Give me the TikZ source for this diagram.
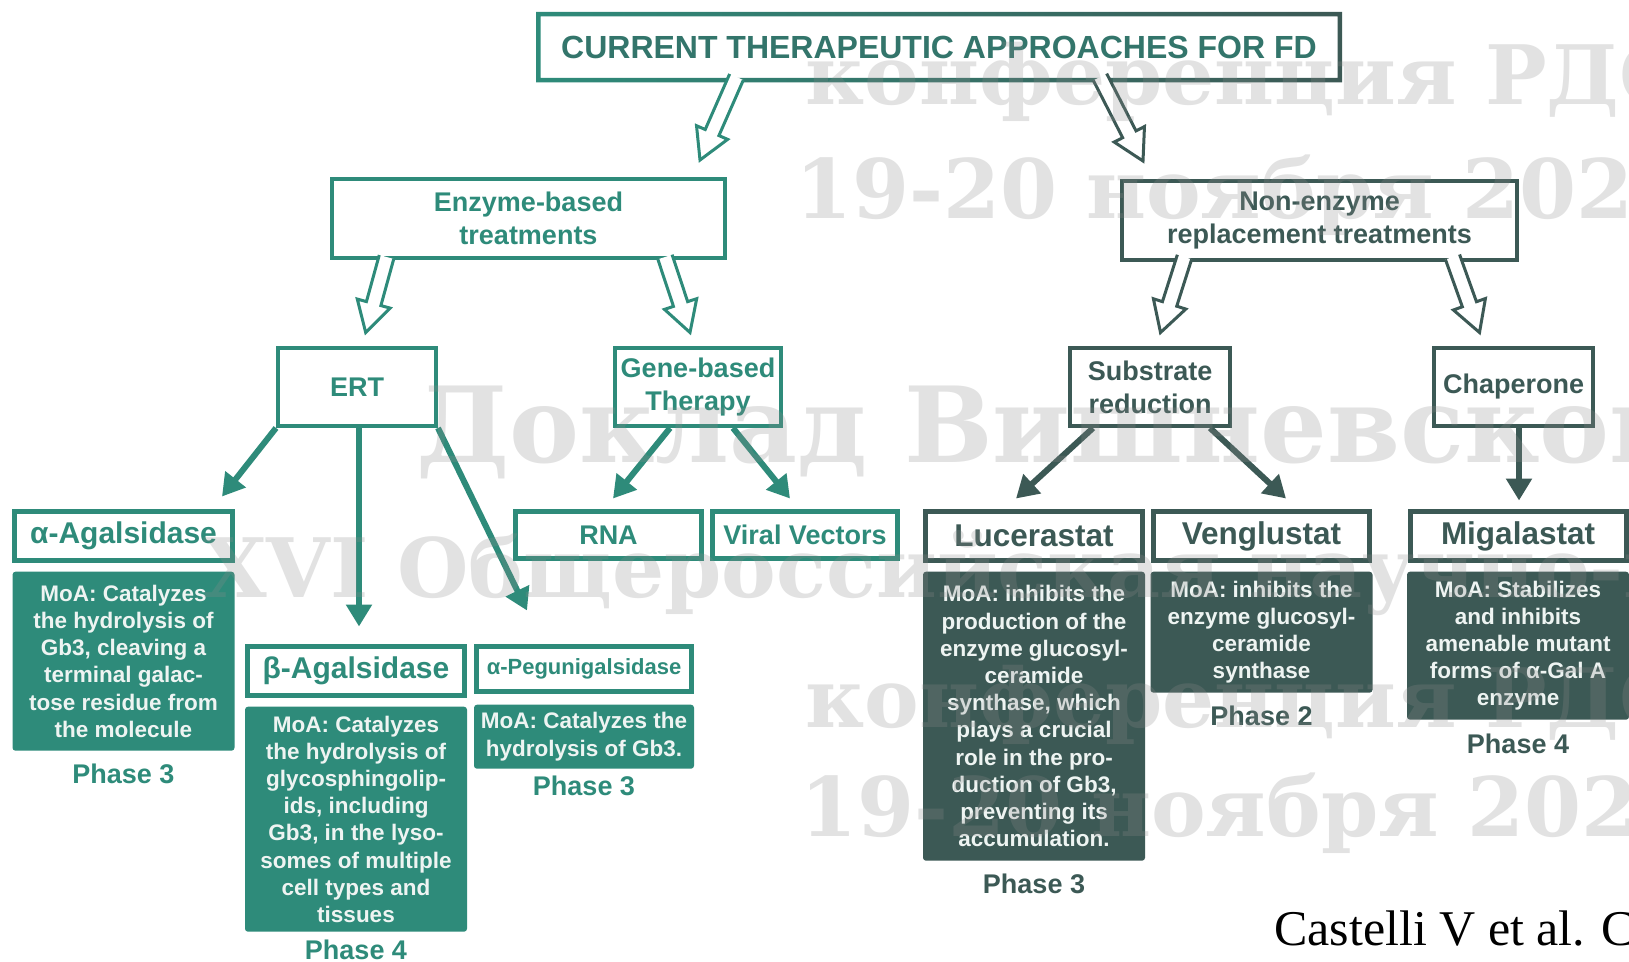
\documentclass[tikz,border=0pt]{standalone}
\usepackage{fontspec}
\setmainfont{Liberation Sans}
\newfontfamily\citefont{Liberation Serif}
\newfontfamily\wmfont{DejaVu Serif}
\usetikzlibrary{arrows.meta}
\usetikzlibrary{calc}
\usetikzlibrary{positioning}

\definecolor{enzteal}{HTML}{2E8B7A}
\definecolor{nonslate}{HTML}{3C5955}
\definecolor{titletext}{HTML}{33756B}
\definecolor{moatext}{HTML}{EEF4F2}
\definecolor{wmgray}{HTML}{8C8C8C}

\tikzset{
  catbox/.style={rectangle, draw=#1, line width=4pt, fill=white, text=#1,
    font=\bfseries\fontsize{27}{33}\selectfont, align=center, inner sep=0pt},
  drugbox/.style={rectangle, draw=#1, line width=5pt, fill=white, text=#1,
    font=\bfseries\fontsize{30}{36}\selectfont, inner sep=0pt},
  moabox/.style={rectangle, rounded corners=3pt, fill=#1, text=moatext, minimum width=222pt,
    font=\bfseries\fontsize{22.5}{27.2}\selectfont, align=center, inner sep=0pt},
  phaselabel/.style={text=#1, font=\bfseries\fontsize{27}{32}\selectfont, inner sep=0pt},
  solidarrow/.style={draw=#1, line width=6pt, -{Triangle[length=22pt,width=25pt]}},
  wmtext/.style={font=\wmfont\bfseries\fontsize{82}{82}\selectfont, text=wmgray,
    text opacity=0.25, anchor=base west, inner sep=0pt}
}

% outlined arrow: colour, start, tip
\newcommand{\hollowarrow}[3]{%
  \coordinate (ha-s) at #2;
  \coordinate (ha-t) at #3;
  \coordinate (ha-b) at ($(ha-t)!30pt!(ha-s)$);
  \filldraw[draw=#1, fill=white, line width=3pt, line join=miter]
    ($(ha-s)!7.5pt!90:(ha-t)$) -- ($(ha-b)!7.5pt!90:(ha-t)$) -- ($(ha-b)!17pt!90:(ha-t)$)
    -- (ha-t) -- ($(ha-b)!17pt!-90:(ha-t)$) -- ($(ha-b)!7.5pt!-90:(ha-t)$)
    -- ($(ha-s)!7.5pt!-90:(ha-t)$);
}

\begin{document}
\begin{tikzpicture}[x=1pt, y=-1pt]
  \useasboundingbox[fill=white] (0,0) rectangle (1629,961);

  % top levels
  \node[catbox=titletext, draw=none, minimum width=797.5pt, minimum height=62pt,
    font=\bfseries\fontsize{32}{38}\selectfont] (title) at (939,47) {CURRENT THERAPEUTIC APPROACHES FOR FD};
  \shade[left color=enzteal, right color=nonslate, even odd rule]
    ([shift={(-2.25pt,2.25pt)}]title.north west) rectangle ([shift={(2.25pt,-2.25pt)}]title.south east)
    ([shift={(2.25pt,-2.25pt)}]title.north west) rectangle ([shift={(-2.25pt,2.25pt)}]title.south east);
  \node[catbox=enzteal, minimum width=393pt, minimum height=79pt] (enzyme) at (528.5,218.5) {Enzyme-based\\treatments};
  \node[catbox=nonslate, minimum width=395pt, minimum height=79pt] (nonenz) at (1319.5,220.5) {Non-enzyme\\replacement treatments};
  \node[catbox=enzteal, minimum width=158pt, minimum height=78pt] (ert) at (357,387) {ERT};
  \node[catbox=enzteal, minimum width=166pt, minimum height=78pt] (gene) at (698,387) {Gene-based\\Therapy};
  \node[catbox=nonslate, minimum width=160pt, minimum height=78pt] (subst) at (1150,387) {Substrate\\reduction};
  \node[catbox=nonslate, minimum width=159pt, minimum height=78pt] (chap) at (1513.5,387) {Chaperone};

  \hollowarrow{enzteal}{([xshift=-202.5pt,yshift=3pt]title.south)}{([shift={(171.5pt,17pt)}]enzyme.north)}
  \hollowarrow{nonslate}{([xshift=161pt,yshift=3pt]title.south)}{([shift={(-176.5pt,18pt)}]nonenz.north)}
  \hollowarrow{enzteal}{([xshift=-142pt,yshift=3pt]enzyme.south)}{([shift={(8.7pt,13.5pt)}]ert.north)}
  \hollowarrow{enzteal}{([xshift=136.5pt,yshift=3pt]enzyme.south)}{([shift={(-8pt,13.5pt)}]gene.north)}
  \hollowarrow{nonslate}{([xshift=-135pt,yshift=5pt]nonenz.south)}{([shift={(10.5pt,13.5pt)}]subst.north)}
  \hollowarrow{nonslate}{([xshift=133pt,yshift=5pt]nonenz.south)}{([shift={(-34pt,13.5pt)}]chap.north)}

  % enzyme-based branch
  \node[drugbox=enzteal, minimum width=218pt, minimum height=49pt] (aaga) at (123.5,536) {α-Agalsidase};
  \node[moabox=enzteal, minimum height=179pt, below=8.5pt of aaga] (aagamoa)
    {MoA: Catalyzes\\the hydrolysis of\\Gb3, cleaving a\\terminal galac-\\tose residue from\\the molecule};
  \node[phaselabel=enzteal, below=13pt of aagamoa] (aagaphase) {Phase 3};

  \node[drugbox=enzteal, minimum width=217pt, minimum height=49pt] (baga) at (356,671) {β-Agalsidase};
  \node[moabox=enzteal, minimum height=225pt, below=8.5pt of baga] (bagamoa)
    {MoA: Catalyzes\\the hydrolysis of\\glycosphingolip-\\ids, including\\Gb3, in the lyso-\\somes of multiple\\cell types and\\tissues};
  \node[phaselabel=enzteal, below=8pt of bagamoa] (bagaphase) {Phase 4};

  \node[drugbox=enzteal, minimum width=215pt, minimum height=45pt,
    font=\bfseries\fontsize{22}{26}\selectfont] (peg) at (584,669) {α-Pegunigalsidase};
  \node[moabox=enzteal, minimum width=220pt, minimum height=64pt, below=10.5pt of peg] (pegmoa)
    {MoA: Catalyzes the\\hydrolysis of Gb3.};
  \node[phaselabel=enzteal, below=7pt of pegmoa] (pegphase) {Phase 3};

  \node[drugbox=enzteal, minimum width=186pt, minimum height=47pt,
    font=\bfseries\fontsize{27}{32}\selectfont] (rna) at (608.5,535) {RNA};
  \node[drugbox=enzteal, minimum width=185pt, minimum height=47pt,
    font=\bfseries\fontsize{27}{32}\selectfont] (viral) at (805,535) {Viral Vectors};

  \draw[solidarrow=enzteal] (ert.south west) -- ([shift={(98.5pt,12.5pt)}]aaga.north);
  \draw[solidarrow=enzteal] ([xshift=2pt]ert.south) -- ([shift={(3pt,17.5pt)}]baga.north);
  \draw[solidarrow=enzteal] (ert.south east) -- ([shift={(-57pt,33.5pt)}]peg.north);
  \draw[solidarrow=enzteal] ([xshift=-28pt]gene.south) -- ([shift={(4.5pt,10.5pt)}]rna.north);
  \draw[solidarrow=enzteal] ([xshift=35pt]gene.south) -- ([shift={(-15pt,10.5pt)}]viral.north);

  % non-enzyme branch
  \node[drugbox=nonslate, minimum width=217pt, minimum height=49pt,
    font=\bfseries\fontsize{31.5}{36}\selectfont] (luc) at (1034,536) {Lucerastat};
  \node[moabox=nonslate, minimum height=289pt, below=8.5pt of luc] (lucmoa)
    {MoA: inhibits the\\production of the\\enzyme glucosyl-\\ceramide\\synthase, which\\plays a crucial\\role in the pro-\\duction of Gb3,\\preventing its\\accumulation.};
  \node[phaselabel=nonslate, below=13pt of lucmoa] (lucphase) {Phase 3};

  \node[drugbox=nonslate, minimum width=216pt, minimum height=49pt,
    font=\bfseries\fontsize{31.5}{36}\selectfont] (veng) at (1261.5,536) {Venglustat};
  \node[moabox=nonslate, minimum height=121pt, below=8.5pt of veng] (vengmoa)
    {MoA: inhibits the\\enzyme glucosyl-\\ceramide\\synthase};
  \node[phaselabel=nonslate, below=13pt of vengmoa] (vengphase) {Phase 2};

  \node[drugbox=nonslate, minimum width=216pt, minimum height=49pt,
    font=\bfseries\fontsize{31.5}{36}\selectfont] (mig) at (1518,536) {Migalastat};
  \node[moabox=nonslate, minimum height=148pt, below=8.5pt of mig] (migmoa)
    {MoA: Stabilizes\\and inhibits\\amenable mutant\\forms of α-Gal A\\enzyme};
  \node[phaselabel=nonslate, below=14pt of migmoa] (migphase) {Phase 4};

  \draw[solidarrow=nonslate] ([xshift=-57pt]subst.south) -- ([shift={(-18pt,10.5pt)}]luc.north);
  \draw[solidarrow=nonslate] ([xshift=60pt]subst.south) -- ([shift={(24.5pt,10.5pt)}]veng.north);
  \draw[solidarrow=nonslate] ([xshift=5.5pt]chap.south) -- ([shift={(1pt,8.5pt)}]mig.north);

  % source
  \node[font=\citefont\fontsize{50}{50}\selectfont, anchor=base west, inner sep=0pt] (cite) at (1274,945) {Castelli V et al. C};

  % watermark
  \node[wmtext] (wm0) at (203,-26) {XVI Общероссийская научно-практическая};
  \node[wmtext] (wm1) at (805,104) {конференция РДО};
  \node[wmtext] (wm2) at (795,218) {19-20 ноября 2021};
  \node[wmtext, font=\wmfont\bfseries\fontsize{105}{105}\selectfont] (wm3) at (416,462) {Доклад Вишневской};
  \node[wmtext] (wm4) at (203,597) {XVI Общероссийская научно-практическая};
  \node[wmtext] (wm5) at (805,727) {конференция РДО};
  \node[wmtext] (wm6) at (800,836) {19-20 ноября 2021};
\end{tikzpicture}
\end{document}
